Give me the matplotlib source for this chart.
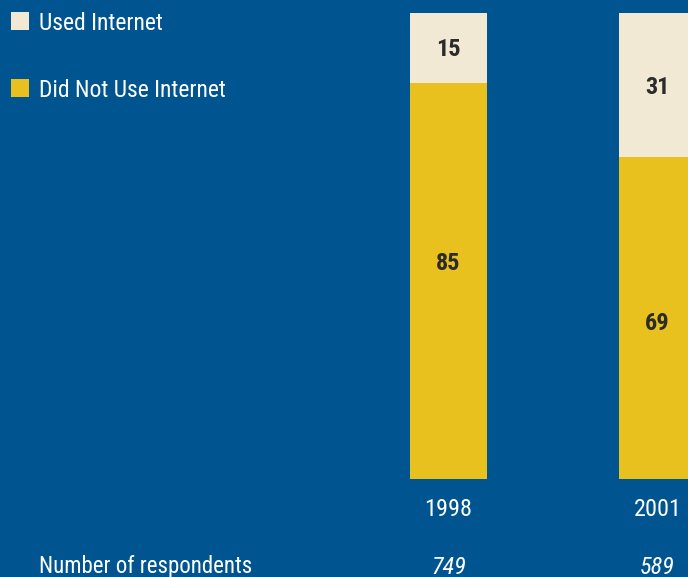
import matplotlib
matplotlib.use("Agg")
import matplotlib.pyplot as plt
from matplotlib.patches import Rectangle

years = ["1998", "2001"]
respondents = ["749", "589"]
used = [15, 31]
not_used = [85, 69]
series_names = ["Used Internet", "Did Not Use Internet"]

BG = "#00548f"
CREAM = "#f1e9d4"
YELLOW = "#e8c11e"
DARK = "#2b2b2b"
FONT = ["Roboto Condensed", "DejaVu Sans"]

W, H = 688, 577
fig = plt.figure(figsize=(W / 100, H / 100), dpi=100, facecolor=BG)

# axes spans the plotting band: value 0 at y=479px, 100 at y=13px
ax = fig.add_axes([0, (H - 479) / H, 1, (479 - 13) / H])
ax.set_facecolor(BG)
step = 209.0
ax.set_xlim(-448.5 / step, (W - 448.5) / step)
ax.set_ylim(0, 100)
ax.axis("off")

x = list(range(len(years)))
bw = 77 / step
ax.bar(x, not_used, width=bw, color=YELLOW, linewidth=0)
ax.bar(x, used, width=bw, bottom=not_used, color=CREAM, linewidth=0)

# vertical nudge (pixels) for the labels inside the yellow segments
yellow_label_shift = [17, -5]

for i in x:
    ax.annotate(str(not_used[i]), (i, not_used[i] / 2),
                xytext=(0, yellow_label_shift[i]), textcoords="offset pixels",
                ha="center", va="center", color=DARK, fontsize=17.5,
                fontweight="bold", family=FONT)
    ax.annotate(str(used[i]), (i, not_used[i] + used[i] / 2),
                xytext=(0, -2), textcoords="offset pixels",
                ha="center", va="center", color=DARK, fontsize=17.5,
                fontweight="bold", family=FONT)
    # year under each bar, respondent count further down
    ax.annotate(years[i], (i, 0), xytext=(0, -31), textcoords="offset pixels",
                ha="center", va="center", color="white", fontsize=17.5,
                family=FONT, annotation_clip=False)
    ax.annotate(respondents[i], (i, 0), xytext=(0, -88), textcoords="offset pixels",
                ha="center", va="center", color="white", fontsize=17.5,
                style="italic", family=FONT, annotation_clip=False)

fig.text(39 / W, 1 - 567 / H, "Number of respondents", ha="left", va="center",
         color="white", fontsize=16.5, family=FONT)

# legend swatches, top left
for k, (name, col) in enumerate(zip(series_names, [CREAM, YELLOW])):
    yc = 21 + k * 67
    fig.patches.append(Rectangle((11 / W, 1 - (yc + 9) / H), 18 / W, 18 / H,
                                 transform=fig.transFigure, facecolor=col,
                                 edgecolor="none"))
    fig.text(39 / W, 1 - (yc + 2.5) / H, name, ha="left", va="center",
             color="white", fontsize=17, family=FONT)

fig.savefig("out.png", dpi=100, facecolor=BG)
